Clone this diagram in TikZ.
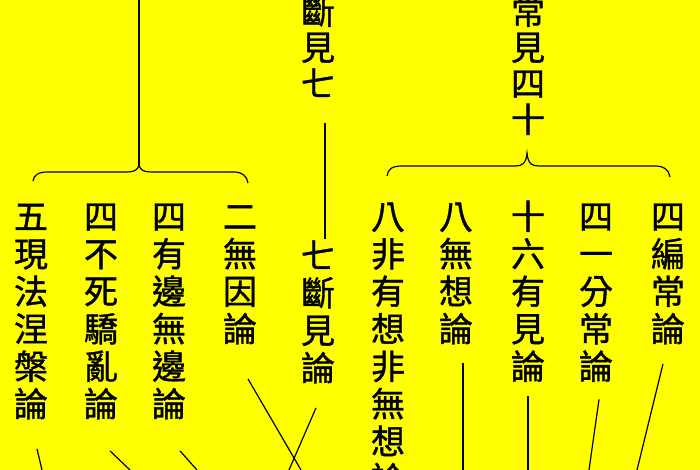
\documentclass[tikz,border=0pt]{standalone}
\usepackage{fontspec}
\newfontfamily\cjk[FakeBold=1.2]{Noto Sans CJK TC}
\usetikzlibrary{calc}
\def\vcolA#1{\ifx#1\relax\else\hbox to 33pt{\hss\rule[-0.12em]{0pt}{1em}#1\hss}\expandafter\vcolA\fi}
\newcommand\vcol[2][37.5pt]{\vbox{\baselineskip=#1\lineskiplimit=-100pt\lineskip=0pt\vcolA#2\relax}}
\definecolor{bgyellow}{HTML}{FFFF00}
\begin{document}
\begin{tikzpicture}[x=1pt,y=-1pt,
  col/.style={font=\cjk\fontsize{34}{37.5}\selectfont, inner sep=0pt, anchor=north, text=black},
  ln/.style={line width=1.2pt, black}]
\useasboundingbox (0,0) rectangle (700,470);
\clip (0,0) rectangle (700,470);
\fill[bgyellow] (0,0) rectangle (700,470);

% top labels
\node[col] (dk) at (318,-6) {\vcol[36pt]{斷見七}};
\node[col] (cj) at (528,-6) {\vcol[36pt]{常見四十}};

% left group
\node[col] (n1) at (31,199) {\vcol{五現法涅槃論}};
\node[col] (n2) at (101,199) {\vcol{四不死驕亂論}};
\node[col] (n3) at (169,199) {\vcol{四有邊無邊論}};
\node[col] (n4) at (240,199) {\vcol{二無因論}};
\node[col] (n5) at (318,238) {\vcol{七斷見論}};

% right group
\node[col] (r1) at (388,199) {\vcol{八非有想非無想論}};
\node[col] (r2) at (456,199) {\vcol{八無想論}};
\node[col] (r3) at (528,199) {\vcol{十六有見論}};
\node[col] (r4) at (596,199) {\vcol{四一分常論}};
\node[col] (r5) at (668,199) {\vcol{四編常論}};

% coordinates
\coordinate (ltop) at (139,0);
\coordinate (ltip) at (139,165);
\coordinate (rtip) at (527,153);
\coordinate (b1) at (42,470);
\coordinate (b2) at (130,470);
\coordinate (b3) at (197,470);
\coordinate (b4) at (301,470);
\coordinate (b5) at (289,470);
\coordinate (b7) at (463,470);
\coordinate (b8) at (528,470);
\coordinate (b9) at (589,470);
\coordinate (b10) at (637,470);

% left trunk and brace
\draw[ln] (ltop) -- (ltip);
\draw[ln] (33,181) .. controls (34,175) and (38,172) .. (48,172) -- (127,172)
  .. controls (134,172) and (138,170) .. (ltip)
  .. controls (140,170) and (144,172) .. (151,172) -- (234,172)
  .. controls (242,172) and (247,176) .. (248,183);

% right brace
\draw[ln] (387,176) .. controls (388,169) and (392,166) .. (402,166) -- (515,166)
  .. controls (522,166) and (526,164) .. (rtip)
  .. controls (528,164) and (532,166) .. (539,166) -- (655,166)
  .. controls (664,166) and (669,170) .. (670,177);

% middle link
\draw[ln, shorten <=23pt, shorten >=-1pt] ([xshift=7pt]dk.south) -- ([xshift=7pt]n5.north);

% lower connectors
\draw[ln] ($(n1.south)+(6,28)$) -- (b1);
\draw[ln] ($(n2.south)+(9,30)$) -- (b2);
\draw[ln] ($(n3.south)+(11,30)$) -- (b3);
\draw[ln] ($(n4.south)+(8,33)$) -- (b4);
\draw[ln] ($(n5.south)+(-2,23)$) -- (b5);
\draw[ln] ($(r2.south)+(7,17)$) -- (b7);
\draw[ln] ($(r3.south)+(0,13)$) -- (b8);
\draw[ln] ($(r4.south)+(3,16)$) -- (b9);
\draw[ln] ($(r5.south)+(-5,18)$) -- (b10);
\end{tikzpicture}
\end{document}
